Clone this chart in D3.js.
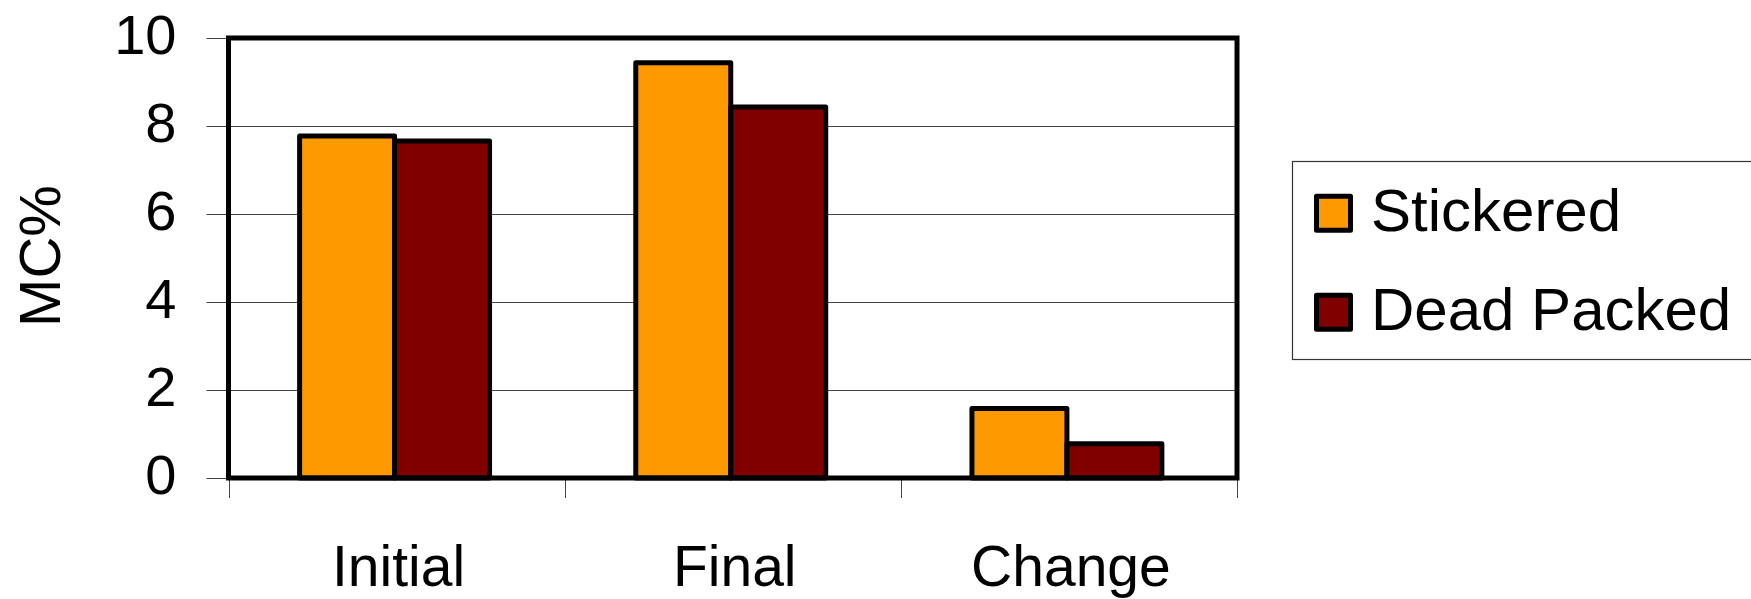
<!DOCTYPE html>
<html><head><meta charset="utf-8">
<script src="https://cdn.jsdelivr.net/npm/d3@7"></script>
<style>html,body{margin:0;padding:0;background:#fff;overflow:hidden}</style>
</head><body>
<svg id="chart" width="1751" height="599"></svg>
<script>
const categories = ["Initial", "Final", "Change"];
const seriesNames = ["Stickered", "Dead Packed"];
const stickered = [7.77, 9.44, 1.58];
const deadPacked = [7.66, 8.43, 0.78];
const yTicks = [0, 2, 4, 6, 8, 10];
const colors = ["#FF9900", "#800000"];
const yTitle = "MC%";

const svg = d3.select("#chart");
const font = "'Liberation Sans', Arial, sans-serif";
const L = 228.5, R = 1237, T = 38, B = 478;

const x0 = d3.scaleBand().domain(categories).range([L, R]).padding(0);
const groupW = x0.bandwidth() * 0.565;
const x1 = d3.scaleBand().domain(seriesNames).range([0, groupW]).padding(0);
const y = d3.scaleLinear().domain([0, 10]).range([B, T]);

// gridlines
svg.append("g").selectAll("line").data(yTicks.filter(d => d > 0 && d < 10)).join("line")
  .attr("x1", L).attr("x2", R).attr("y1", d => Math.round(y(d)) + 0.5).attr("y2", d => Math.round(y(d)) + 0.5)
  .attr("stroke", "#444").attr("stroke-width", 1);

// y axis ticks + labels
const yAxis = d3.axisLeft(y).tickValues(yTicks).tickSize(22).tickPadding(0).tickFormat(d3.format("d"));
const yg = svg.append("g").attr("transform", `translate(${L},0)`).call(yAxis);
yg.select(".domain").remove();
yg.selectAll(".tick").attr("transform", d => `translate(0,${Math.round(y(d)) + 0.5})`);
yg.selectAll(".tick line").attr("stroke", "#444").attr("stroke-width", 1);
yg.selectAll(".tick text").attr("x", -52).attr("dy", "0.28em")
  .style("font-family", font).style("font-size", "56px").attr("fill", "#000");

// x axis ticks at category boundaries
const bounds = categories.map(c => x0(c)).concat([R]);
svg.append("g").selectAll("line").data(bounds).join("line")
  .attr("x1", d => Math.round(d) + 0.5).attr("x2", d => Math.round(d) + 0.5).attr("y1", B).attr("y2", B + 20)
  .attr("stroke", "#444").attr("stroke-width", 1);

// x labels
svg.append("g").selectAll("text").data(categories).join("text")
  .attr("x", d => x0(d) + x0.bandwidth() / 2 + 2).attr("y", 586)
  .attr("text-anchor", "middle").style("font-family", font).style("font-size", "57px")
  .text(d => d);

// bars
const rows = categories.map((c, i) => ({ cat: c, vals: [stickered[i], deadPacked[i]] }));
const grp = svg.append("g").selectAll("g").data(rows).join("g")
  .attr("transform", d => `translate(${x0(d.cat) + (x0.bandwidth() - groupW) / 2 - 2},0)`);
grp.selectAll("rect").data(d => d.vals.map((v, j) => ({ v, s: seriesNames[j], j }))).join("rect")
  .attr("x", d => x1(d.s)).attr("width", x1.bandwidth())
  .attr("y", d => y(d.v)).attr("height", d => B - y(d.v))
  .attr("fill", d => colors[d.j]).attr("stroke", "#000").attr("stroke-width", 5)
  .attr("stroke-linejoin", "round");

// plot border
svg.append("rect").attr("x", L).attr("y", T).attr("width", R - L).attr("height", B - T)
  .attr("fill", "none").attr("stroke", "#000").attr("stroke-width", 5);

// y title
svg.append("text").attr("transform", `translate(60,256) rotate(-90)`)
  .attr("text-anchor", "middle").style("font-family", font).style("font-size", "58px")
  .text(yTitle);

// legend
const lg = svg.append("g");
lg.append("rect").attr("x", 1292.5).attr("y", 161.5).attr("width", 500).attr("height", 198)
  .attr("fill", "#fff").attr("stroke", "#333").attr("stroke-width", 1.2);
const items = lg.selectAll("g.item").data(seriesNames).join("g").attr("class", "item")
  .attr("transform", (d, i) => `translate(0,${i * 99})`);
items.append("rect").attr("x", 1316.5).attr("y", 196.3).attr("width", 34).attr("height", 34)
  .attr("fill", (d, i) => colors[i]).attr("stroke", "#000").attr("stroke-width", 5)
  .attr("stroke-linejoin", "round");
items.append("text").attr("x", 1371).attr("y", 231)
  .style("font-family", font).style("font-size", "60px").text(d => d);
</script>
</body></html>
